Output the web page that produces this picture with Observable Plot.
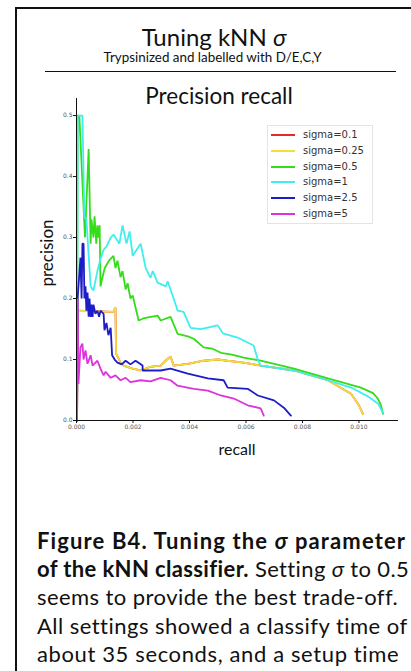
<!DOCTYPE html>
<html><head><meta charset="utf-8">
<script src="https://cdn.jsdelivr.net/npm/d3@7"></script>
<script src="https://cdn.jsdelivr.net/npm/@observablehq/plot@0.6"></script>
<style>
body{margin:0;width:411px;height:671px;overflow:hidden;background:#fff;font-family:Lato,"Open Sans",sans-serif;position:relative;color:#111}
.abs{position:absolute}
#legend .row{position:absolute;left:0;height:16px;width:100%}
#legend .sw{position:absolute;left:3px;top:7px;width:24px;height:2px}
#legend .tx{position:absolute;left:35px;top:0;font:10px "DejaVu Sans",sans-serif;color:#333;line-height:16px}
.cap{position:absolute;left:37px;font-size:22px;line-height:28.5px;white-space:nowrap}
</style></head><body>
<script>
// ---- data: [recall, precision] pairs ----
const seriesNames = ["sigma=0.1","sigma=0.25","sigma=0.5","sigma=1","sigma=2.5","sigma=5"];
const seriesColors = ["#e8282a","#f2e03a","#33dd1a","#3feeee","#1c1cc8","#dd33dd"];
const xTicks = [0,0.002,0.004,0.006,0.008,0.010];
const yTicks = [0,0.1,0.2,0.3,0.4,0.5];

const sigma025 = [[0.00002,0],[0.00004,0.18],[0.0013,0.178],[0.00138,0.185],[0.0014,0.11],[0.00156,0.095],[0.00167,0.09],[0.00199,0.085],[0.00227,0.082],[0.0026,0.088],[0.00298,0.09],[0.0032,0.1],[0.00333,0.105],[0.00344,0.09],[0.00394,0.093],[0.0045,0.098],[0.005,0.1],[0.00535,0.098],[0.00592,0.095],[0.00652,0.09],[0.0077,0.082],[0.0089,0.066],[0.00972,0.044],[0.01,0.025],[0.01014,0.011]];
// sigma=0.1 is not visible: it lies under the sigma=0.25 curve
const sigma01 = sigma025.map(d => d.slice());
const sigma05 = [[0.00002,0],[0.00004,0.5],[0.0001,0.5],[0.0003,0.3],[0.00043,0.445],[0.0005,0.29],[0.00053,0.33],[0.0006,0.3],[0.00064,0.335],[0.0007,0.29],[0.00074,0.32],[0.00078,0.3],[0.00082,0.32],[0.00085,0.22],[0.00092,0.235],[0.001,0.25],[0.00115,0.262],[0.00131,0.27],[0.00138,0.25],[0.00145,0.262],[0.00156,0.235],[0.00163,0.245],[0.00174,0.215],[0.00181,0.225],[0.00191,0.2],[0.00199,0.205],[0.0022,0.164],[0.0024,0.168],[0.00287,0.172],[0.00298,0.164],[0.00333,0.17],[0.00358,0.142],[0.00394,0.138],[0.00415,0.134],[0.0045,0.12],[0.0048,0.118],[0.00511,0.111],[0.0055,0.108],[0.00592,0.103],[0.00652,0.098],[0.0077,0.085],[0.0089,0.069],[0.01007,0.054],[0.0105,0.045],[0.01067,0.036],[0.01078,0.025],[0.01085,0.011]];
const sigma1 = [[0.00002,0],[0.00004,0.5],[0.00021,0.5],[0.00028,0.333],[0.00035,0.33],[0.0005,0.22],[0.0006,0.213],[0.00074,0.245],[0.00085,0.265],[0.00096,0.28],[0.00106,0.285],[0.00121,0.3],[0.00131,0.305],[0.00152,0.29],[0.00163,0.32],[0.00177,0.29],[0.00188,0.31],[0.00199,0.27],[0.00227,0.29],[0.00245,0.25],[0.00262,0.234],[0.0027,0.245],[0.00287,0.226],[0.00316,0.22],[0.00323,0.228],[0.00344,0.2],[0.00358,0.18],[0.00379,0.178],[0.00404,0.152],[0.0044,0.15],[0.005,0.156],[0.00518,0.143],[0.0057,0.136],[0.00627,0.123],[0.00642,0.1],[0.00652,0.09],[0.0077,0.082],[0.0089,0.066],[0.00972,0.054],[0.0103,0.04],[0.01067,0.028],[0.01085,0.013]];
const sigma25 = [[0.00002,0],[0.00004,0.2],[0.00014,0.267],[0.00018,0.2],[0.00021,0.29],[0.00025,0.29],[0.00028,0.2],[0.00032,0.22],[0.00035,0.18],[0.00039,0.21],[0.00043,0.17],[0.00046,0.2],[0.0005,0.17],[0.00053,0.19],[0.00057,0.17],[0.0006,0.19],[0.00067,0.175],[0.00074,0.18],[0.0008,0.17],[0.00085,0.18],[0.00096,0.175],[0.00099,0.148],[0.00106,0.16],[0.00113,0.14],[0.00121,0.152],[0.00126,0.107],[0.00135,0.1],[0.00145,0.095],[0.0016,0.092],[0.00174,0.098],[0.00191,0.092],[0.00209,0.098],[0.00234,0.09],[0.00234,0.082],[0.00298,0.082],[0.00333,0.085],[0.00394,0.077],[0.00465,0.069],[0.00521,0.066],[0.00535,0.054],[0.00606,0.052],[0.00642,0.041],[0.00699,0.033],[0.00734,0.021],[0.00759,0.008]];
const sigma5 = [[0.00002,0],[0.00004,0.2],[0.00007,0.06],[0.00014,0.12],[0.00021,0.126],[0.00025,0.1],[0.00032,0.115],[0.00039,0.093],[0.0005,0.107],[0.00057,0.09],[0.00074,0.098],[0.00085,0.085],[0.00096,0.074],[0.00103,0.08],[0.00121,0.07],[0.00138,0.074],[0.00156,0.066],[0.00174,0.07],[0.00191,0.063],[0.00227,0.066],[0.00262,0.064],[0.00298,0.07],[0.00333,0.066],[0.00358,0.057],[0.00415,0.052],[0.00465,0.049],[0.00511,0.041],[0.00557,0.036],[0.00606,0.025],[0.00652,0.02],[0.00663,0.008]];
const allSeries = [sigma01, sigma025, sigma05, sigma1, sigma25, sigma5];
</script>

<div class="abs" style="left:15px;top:7px;width:430px;height:700px;border-left:2px solid #111;border-top:2px solid #111"></div>
<div class="abs" style="left:0;width:428px;top:22px;text-align:center;font-size:24px">Tuning kNN <i>σ</i></div>
<div class="abs" style="left:0;width:425px;top:49px;text-align:center;font-size:13.4px">Trypsinized and labelled with D/E,C,Y</div>
<div class="abs" style="left:45px;top:71px;width:351px;height:0;border-top:1px solid #111"></div>
<div class="abs" style="left:119px;width:200px;top:82px;text-align:center;font-size:22.5px">Precision recall</div>
<div id="chart" class="abs" style="left:0;top:80px"></div>
<div class="abs" style="left:46px;top:253px;font-size:17px;transform:translate(-50%,-50%) rotate(-90deg)">precision</div>
<div class="abs" style="left:237px;top:448px;font-size:16px;transform:translate(-50%,-50%)">recall</div>
<div id="legend" class="abs" style="left:267px;top:125px;width:104px;height:97px;border:1px solid #e4e4e4;background:#fff"></div>

<div class="cap" data-w="368" style="top:527px"><b>Figure B4. Tuning the <i>σ</i> parameter</b></div>
<div class="cap" data-w="371" style="top:555px"><b>of the kNN classifier.</b> Setting <i>σ</i> to 0.5</div>
<div class="cap" data-w="360" style="top:583px">seems to provide the best trade-off.</div>
<div class="cap" data-w="370" style="top:612px">All settings showed a classify time of</div>
<div class="cap" data-w="362" style="top:640px">about 35 seconds, and a setup time</div>

<script>
const rows = [];
allSeries.forEach((s, i) => s.forEach(([r, p]) => rows.push({recall: r, precision: p, series: seriesNames[i]})));

const chart = Plot.plot({
  width: 411, height: 380,
  marginLeft: 76, marginRight: 13, marginTop: 18, marginBottom: 40,
  x: {domain: [0, 0.0114]},
  y: {domain: [0, 0.528]},
  color: {domain: seriesNames, range: seriesColors},
  style: {background: "transparent", overflow: "visible"},
  marks: [
    Plot.line(rows, {x: "recall", y: "precision", z: "series", stroke: "series", strokeWidth: 1.8, strokeLinejoin: "miter"}),
    Plot.ruleX([0], {stroke: "#111", strokeWidth: 1}),
    Plot.ruleY([0], {stroke: "#111", strokeWidth: 1}),
    Plot.axisX({ticks: xTicks, tickFormat: d3.format(".3f"), tickSize: 3, tickPadding: 1, fontSize: 6, fill: "#555", fontFamily: "DejaVu Sans", label: null}),
    Plot.axisY({ticks: yTicks, tickFormat: d3.format(".1f"), tickSize: 3, tickPadding: 1, fontSize: 6, fill: "#555", fontFamily: "DejaVu Sans", label: null})
  ]
});
document.getElementById("chart").appendChild(chart);

const legend = document.getElementById("legend");
seriesNames.forEach((n, i) => {
  const row = document.createElement("div");
  row.className = "row";
  row.style.top = (1 + i * 15.8) + "px";
  row.innerHTML = `<div class="sw" style="background:${seriesColors[i]}"></div><div class="tx">${n}</div>`;
  legend.appendChild(row);
});

// fit each caption line to the width it has in the figure
document.querySelectorAll(".cap").forEach(el => {
  const target = +el.dataset.w;
  const w = el.getBoundingClientRect().width;
  const n = el.textContent.length - 1;
  el.style.letterSpacing = ((target - w) / n) + "px";
});
</script>
</body></html>
